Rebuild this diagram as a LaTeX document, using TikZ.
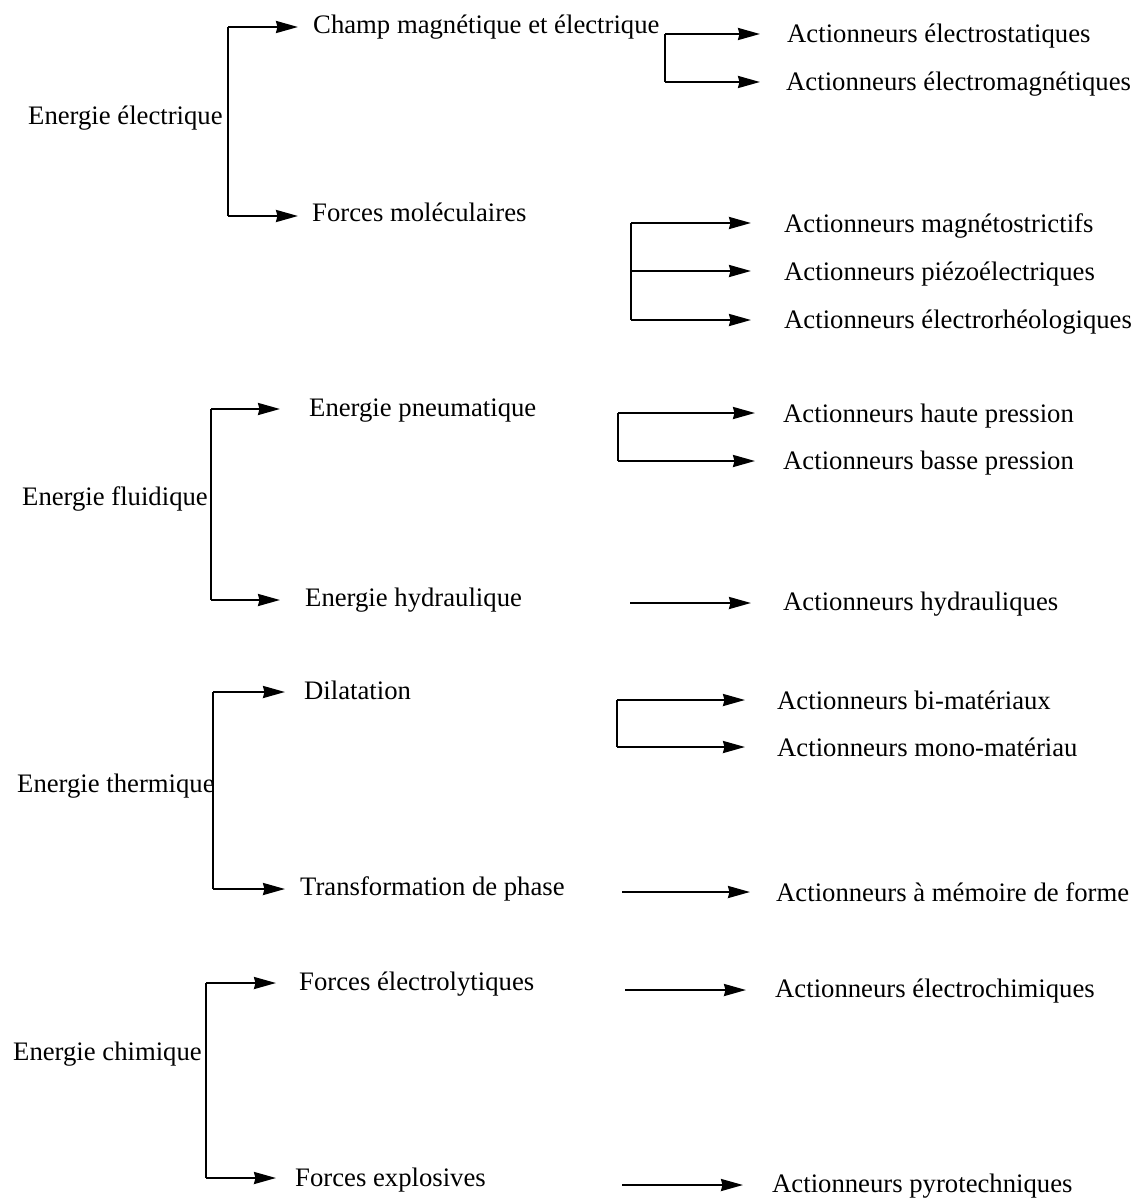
\documentclass[tikz,border=0pt]{standalone}
\usepackage{fontspec}
\setmainfont{Liberation Serif}
\usetikzlibrary{arrows.meta}
\begin{document}
\begin{tikzpicture}[x=1pt,y=-1pt,
  txt/.style={anchor=base west,inner sep=0pt,font=\fontsize{26.7}{30}\selectfont},
  ln/.style={line width=2.2pt},
  arr/.style={ln,-{Stealth[length=22pt,width=12pt,inset=1.5pt]}}]
\useasboundingbox (0,0) rectangle (1138,1201);
% ---------- level 0 ----------
\node[txt] (ee) at (28,125) {Energie électrique};
\node[txt] (ef) at (22,505) {Energie fluidique};
\node[txt] (et) at (17,792) {Energie thermique};
\node[txt] (ec) at (13,1060) {Energie chimique};
% ---------- level 1 ----------
\node[txt] (champ) at (313,34) {Champ magnétique et électrique};
\node[txt] (fmol) at (312,222) {Forces moléculaires};
\node[txt] (pneu) at (309,416) {Energie pneumatique};
\node[txt] (hydr) at (305,606) {Energie hydraulique};
\node[txt] (dil) at (304,699) {Dilatation};
\node[txt] (trans) at (300,895) {Transformation de phase};
\node[txt] (felec) at (299,990) {Forces électrolytiques};
\node[txt] (fexp) at (295,1186) {Forces explosives};
% ---------- level 2 ----------
\node[txt] (estat) at (787,43) {Actionneurs électrostatiques};
\node[txt] (emag) at (786,91) {Actionneurs électromagnétiques};
\node[txt] (magn) at (784,232) {Actionneurs magnétostrictifs};
\node[txt] (piezo) at (784,280) {Actionneurs piézoélectriques};
\node[txt] (rheo) at (784,328) {Actionneurs électrorhéologiques};
\node[txt] (haute) at (783,422) {Actionneurs haute pression};
\node[txt] (basse) at (783,469) {Actionneurs basse pression};
\node[txt] (ahyd) at (783,610) {Actionneurs hydrauliques};
\node[txt] (bimat) at (777,709) {Actionneurs bi-matériaux};
\node[txt] (mono) at (777,756) {Actionneurs mono-matériau};
\node[txt] (mem) at (776,901) {Actionneurs à mémoire de forme};
\node[txt] (echim) at (775,997) {Actionneurs électrochimiques};
\node[txt] (pyro) at (772,1192) {Actionneurs pyrotechniques};
% ---------- level 0 -> level 1 brackets ----------
\coordinate (a1) at (228,27);  \coordinate (a2) at (228,216);
\draw[ln] (a1) -- (a2);
\draw[arr,shorten >=15pt] (a1) -- (a1 -| champ.west);
\draw[arr,shorten >=14pt] (a2) -- (a2 -| fmol.west);
\coordinate (b1) at (211,409); \coordinate (b2) at (211,600);
\draw[ln] (b1) -- (b2);
\draw[arr,shorten >=29pt] (b1) -- (b1 -| pneu.west);
\draw[arr,shorten >=25pt] (b2) -- (b2 -| hydr.west);
\coordinate (c1) at (213,692); \coordinate (c2) at (213,889);
\draw[ln] (c1) -- (c2);
\draw[arr,shorten >=19pt] (c1) -- (c1 -| dil.west);
\draw[arr,shorten >=15pt] (c2) -- (c2 -| trans.west);
\coordinate (d1) at (206,983); \coordinate (d2) at (206,1178);
\draw[ln] (d1) -- (d2);
\draw[arr,shorten >=23pt] (d1) -- (d1 -| felec.west);
\draw[arr,shorten >=19pt] (d2) -- (d2 -| fexp.west);
% ---------- level 1 -> level 2 ----------
\coordinate (e1) at (665,34); \coordinate (e2) at (665,82);
\draw[ln] (e1) -- (e2);
\draw[arr,shorten >=27pt] (e1) -- (e1 -| estat.west);
\draw[arr,shorten >=26pt] (e2) -- (e2 -| emag.west);
\coordinate (f1) at (631,223); \coordinate (f2) at (631,271); \coordinate (f3) at (631,320);
\draw[ln] (f1) -- (f3);
\draw[arr,shorten >=33pt] (f1) -- (f1 -| magn.west);
\draw[arr,shorten >=33pt] (f2) -- (f2 -| piezo.west);
\draw[arr,shorten >=33pt] (f3) -- (f3 -| rheo.west);
\coordinate (g1) at (618,413); \coordinate (g2) at (618,461);
\draw[ln] (g1) -- (g2);
\draw[arr,shorten >=28pt] (g1) -- (g1 -| haute.west);
\draw[arr,shorten >=28pt] (g2) -- (g2 -| basse.west);
\coordinate (h1) at (630,603);
\draw[arr,shorten >=32pt] (h1) -- (h1 -| ahyd.west);
\coordinate (i1) at (617,700); \coordinate (i2) at (617,747);
\draw[ln] (i1) -- (i2);
\draw[arr,shorten >=32pt] (i1) -- (i1 -| bimat.west);
\draw[arr,shorten >=32pt] (i2) -- (i2 -| mono.west);
\coordinate (k1) at (622,892);
\draw[arr,shorten >=26pt] (k1) -- (k1 -| mem.west);
\coordinate (l1) at (625,990);
\draw[arr,shorten >=29pt] (l1) -- (l1 -| echim.west);
\coordinate (m1) at (622,1185);
\draw[arr,shorten >=29pt] (m1) -- (m1 -| pyro.west);
\end{tikzpicture}
\end{document}
